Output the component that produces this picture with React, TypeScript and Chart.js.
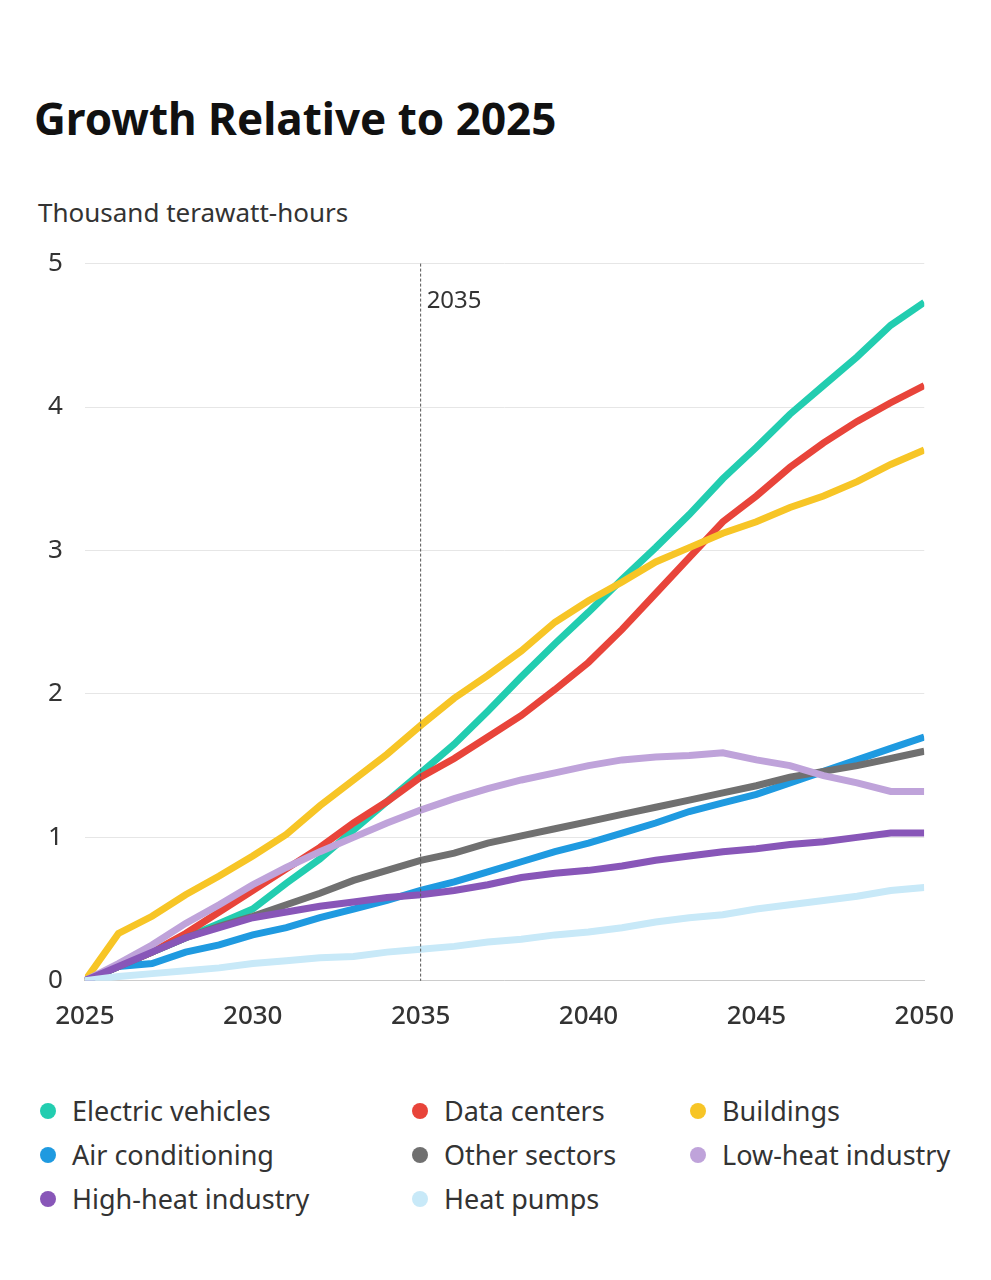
import React, { useEffect, useRef } from "react";
import { Chart, registerables } from "chart.js";
Chart.register(...registerables);

const years = Array.from({ length: 26 }, (_, i) => 2025 + i);
const electricVehicles = [0,0.1,0.2,0.3,0.4,0.5,0.68,0.85,1.05,1.25,1.45,1.65,1.88,2.12,2.35,2.57,2.8,3.02,3.25,3.5,3.72,3.95,4.15,4.35,4.57,4.73];
const dataCenters = [0,0.1,0.2,0.33,0.48,0.63,0.78,0.93,1.1,1.25,1.42,1.55,1.7,1.85,2.03,2.22,2.45,2.7,2.95,3.2,3.38,3.58,3.75,3.9,4.03,4.15];
const buildings = [0,0.33,0.45,0.6,0.73,0.87,1.02,1.22,1.4,1.58,1.78,1.97,2.13,2.3,2.5,2.65,2.78,2.92,3.02,3.12,3.2,3.3,3.38,3.48,3.6,3.7];
const airConditioning = [0,0.1,0.12,0.2,0.25,0.32,0.37,0.44,0.5,0.56,0.63,0.69,0.76,0.83,0.9,0.96,1.03,1.1,1.18,1.24,1.3,1.38,1.46,1.54,1.62,1.7];
const otherSectors = [0,0.1,0.2,0.3,0.38,0.45,0.53,0.61,0.7,0.77,0.84,0.89,0.96,1.01,1.06,1.11,1.16,1.21,1.26,1.31,1.36,1.42,1.46,1.5,1.55,1.6];
const lowHeat = [0,0.12,0.25,0.4,0.53,0.67,0.79,0.9,1.0,1.1,1.19,1.27,1.34,1.4,1.45,1.5,1.54,1.56,1.57,1.59,1.54,1.5,1.43,1.38,1.32,1.32];
const highHeat = [0,0.1,0.2,0.3,0.37,0.44,0.48,0.52,0.55,0.58,0.6,0.63,0.67,0.72,0.75,0.77,0.8,0.84,0.87,0.9,0.92,0.95,0.97,1.0,1.03,1.03];
const heatPumps = [0,0.03,0.05,0.07,0.09,0.12,0.14,0.16,0.17,0.2,0.22,0.24,0.27,0.29,0.32,0.34,0.37,0.41,0.44,0.46,0.5,0.53,0.56,0.59,0.63,0.65];

const series = [
  { label: "Heat pumps", data: heatPumps, color: "#c8e9f8" },
  { label: "High-heat industry", data: highHeat, color: "#8856b8" },
  { label: "Low-heat industry", data: lowHeat, color: "#bfa3da" },
  { label: "Other sectors", data: otherSectors, color: "#707070" },
  { label: "Air conditioning", data: airConditioning, color: "#1f9ae0" },
  { label: "Buildings", data: buildings, color: "#f7c526" },
  { label: "Data centers", data: dataCenters, color: "#e8443a" },
  { label: "Electric vehicles", data: electricVehicles, color: "#22cdb0" },
];
const legendOrder = ["Electric vehicles","Data centers","Buildings","Air conditioning","Other sectors","Low-heat industry","High-heat industry","Heat pumps"];
const markerYear = 2035;
const FONT = "'Noto Sans', sans-serif";

const markerPlugin = {
  id: "marker",
  afterDatasetsDraw(chart: any) {
    const { ctx, scales, chartArea } = chart;
    const x = scales.x.getPixelForValue(markerYear);
    ctx.save();
    ctx.strokeStyle = "#555";
    ctx.lineWidth = 1;
    ctx.setLineDash([3, 2]);
    ctx.beginPath();
    ctx.moveTo(x, chartArea.top);
    ctx.lineTo(x, chartArea.bottom);
    ctx.stroke();
    ctx.setLineDash([]);
    ctx.fillStyle = "#333";
    ctx.font = `24px ${FONT}`;
    ctx.textBaseline = "middle";
    ctx.fillText(String(markerYear), x + 6, chartArea.top + 38);
    ctx.restore();
  },
};

export default function App() {
  const ref = useRef<HTMLCanvasElement>(null);
  useEffect(() => {
    const chart = new Chart(ref.current!, {
      type: "line",
      data: {
        datasets: series.map((s) => ({
          label: s.label,
          data: years.map((y, i) => ({ x: y, y: s.data[i] })),
          borderColor: s.color,
          backgroundColor: s.color,
          borderWidth: 7,
          pointRadius: 0,
          tension: 0,
        })),
      },
      options: {
        animation: false,
        responsive: true,
        maintainAspectRatio: false,
        layout: { padding: { right: 28, top: 10 } },
        plugins: { legend: { display: false }, tooltip: { enabled: false } },
        scales: {
          x: {
            type: "linear",
            min: 2025,
            max: 2050,
            ticks: { stepSize: 5, color: "#333", padding: 12, font: { size: 26, family: FONT, weight: 500 }, callback: (v: any) => String(v), maxRotation: 0 },
            grid: { display: false },
            border: { display: true, color: "#ccc" },
          },
          y: {
            min: 0,
            max: 5,
            ticks: { stepSize: 1, color: "#333", font: { size: 26, family: FONT }, padding: 22 },
            grid: { color: "#e6e6e6", drawTicks: false },
            border: { display: false },
          },
        },
      },
      plugins: [markerPlugin],
    });
    return () => chart.destroy();
  }, []);

  return (
    <div style={{ fontFamily: FONT, background: "#fff", width: 975, height: 1264 }}>
      <div style={{ position: "absolute", left: 34, top: 88, fontSize: 44, fontWeight: 700, color: "#111" }}>
        Growth Relative to 2025
      </div>
      <div style={{ position: "absolute", left: 38, top: 194, fontSize: 26, color: "#333" }}>
        Thousand terawatt-hours
      </div>
      <div style={{ position: "absolute", left: 26, top: 226, width: 940, height: 818 }}>
        <canvas ref={ref} />
      </div>
      <div style={{ position: "absolute", left: 40, top: 1092, width: 940 }}>
        {legendOrder.map((name, i) => {
          const s = series.find((x) => x.label === name)!;
          const col = i % 3;
          const row = Math.floor(i / 3);
          const lefts = [0, 372, 650];
          return (
            <div key={name} style={{ position: "absolute", left: lefts[col], top: row * 44, display: "flex", alignItems: "center", fontSize: 27, color: "#333", whiteSpace: "nowrap" }}>
              <span style={{ width: 16, height: 16, borderRadius: 8, background: s.color, marginRight: 16, display: "inline-block" }} />
              {name}
            </div>
          );
        })}
      </div>
    </div>
  );
}
